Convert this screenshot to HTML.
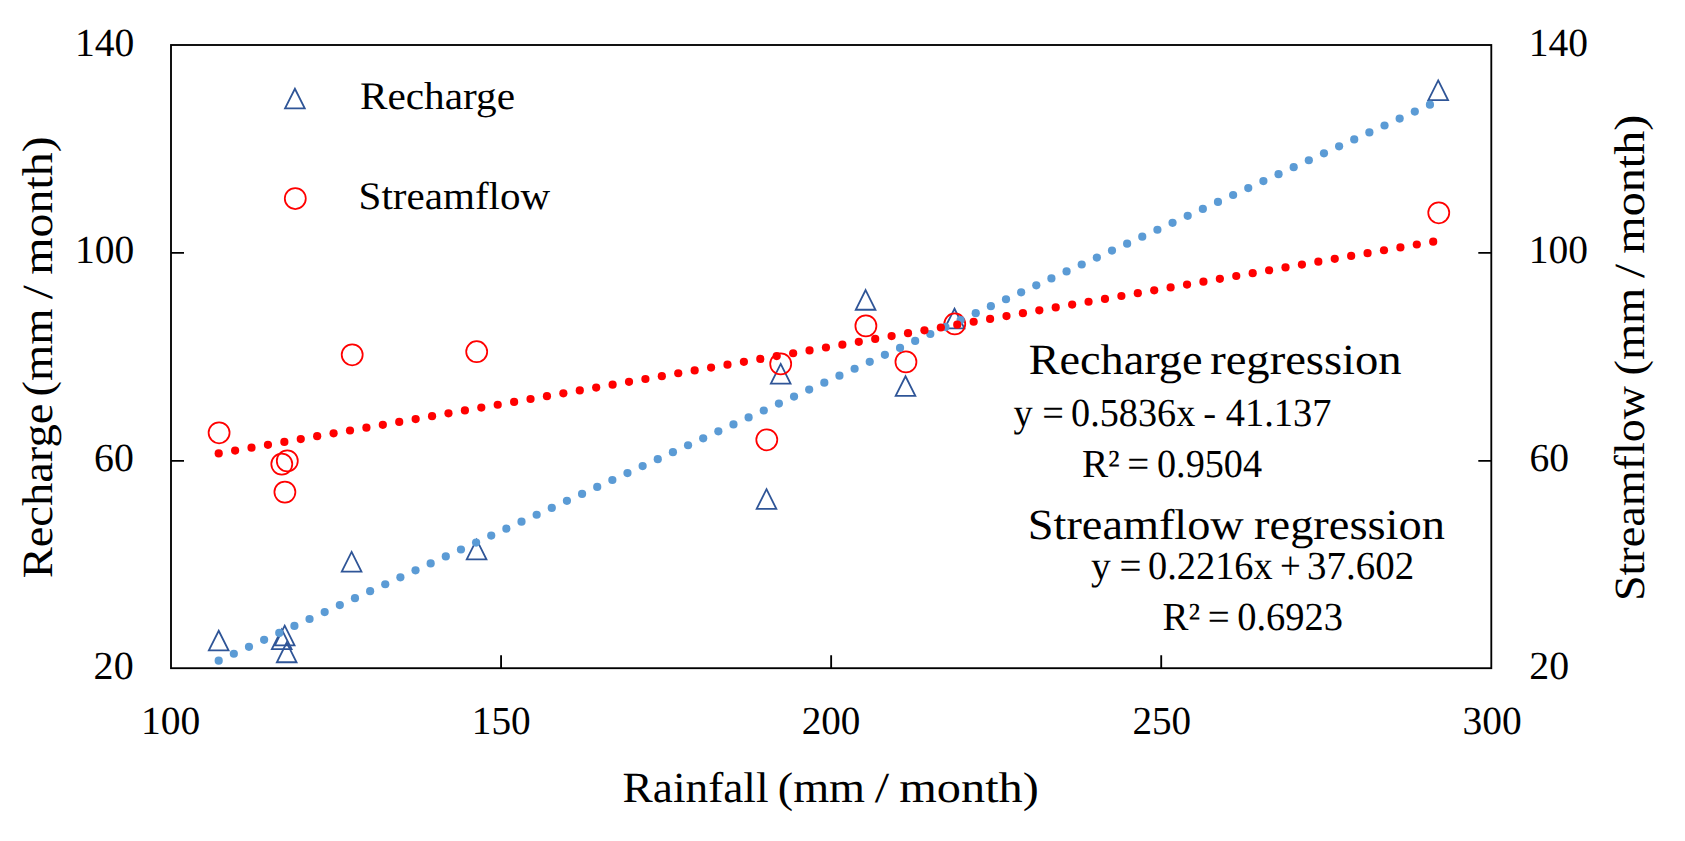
<!DOCTYPE html>
<html lang="en"><head><meta charset="utf-8"><title>Recharge and streamflow vs rainfall</title>
<style>
html,body{margin:0;padding:0;background:#fff;}
body{width:1685px;height:841px;overflow:hidden;}
svg{display:block;}
text{font-family:"Liberation Serif", serif;fill:#000;white-space:pre;text-rendering:geometricPrecision;}
</style></head><body>
<svg width="1685" height="841" viewBox="0 0 1685 841">
<rect x="0" y="0" width="1685" height="841" fill="#fff"/>
<!-- plot frame -->
<rect x="171.0" y="45.0" width="1320.3" height="623.2" fill="none" stroke="#000" stroke-width="1.85"/>
<!-- tick marks -->
<path d="M171.0 252.9h13M1491.3 252.9h-13M171.0 460.9h13M1491.3 460.9h-13M501.07 668.2v-13M831.15 668.2v-13M1161.22 668.2v-13" fill="none" stroke="#000" stroke-width="1.85"/>
<!-- Recharge markers (triangles) + legend key -->
<g fill="none" stroke="#2F5597" stroke-width="1.8" stroke-linejoin="miter" stroke-miterlimit="10">
<path d="M218.7 630.75L228.55 650.45L208.85 650.45Z"/>
<path d="M281.7 629.45L291.55 649.15L271.85 649.15Z"/>
<path d="M284.7 625.65L294.55 645.35L274.85 645.35Z"/>
<path d="M286.7 642.55L296.55 662.25L276.85 662.25Z"/>
<path d="M351.6 551.95L361.45 571.65L341.75 571.65Z"/>
<path d="M476.6 539.65L486.45 559.35L466.75 559.35Z"/>
<path d="M766.5 489.15L776.35 508.85L756.65 508.85Z"/>
<path d="M780.7 363.95L790.55 383.65L770.85 383.65Z"/>
<path d="M865.6 290.05L875.45 309.75L855.75 309.75Z"/>
<path d="M905.5 376.25L915.35 395.95L895.65 395.95Z"/>
<path d="M954.5 308.75L964.35 328.45L944.65 328.45Z"/>
<path d="M1438.2 80.45L1448.05 100.15L1428.35 100.15Z"/>
<path d="M294.9 88.75L304.75 108.45L285.05 108.45Z"/>
</g>
<!-- Streamflow markers (circles) + legend key -->
<g fill="none" stroke="#FF0000" stroke-width="1.75">
<circle cx="219.1" cy="432.8" r="10.5"/>
<circle cx="281.8" cy="464.1" r="10.5"/>
<circle cx="287.3" cy="460.9" r="10.5"/>
<circle cx="284.9" cy="492.1" r="10.5"/>
<circle cx="352.2" cy="354.75" r="10.5"/>
<circle cx="476.7" cy="351.7" r="10.5"/>
<circle cx="766.8" cy="439.8" r="10.5"/>
<circle cx="780.7" cy="363.9" r="10.5"/>
<circle cx="865.9" cy="325.9" r="10.5"/>
<circle cx="905.95" cy="361.9" r="10.5"/>
<circle cx="954.75" cy="323.95" r="10.5"/>
<circle cx="1438.76" cy="212.8" r="10.5"/>
<circle cx="295.3" cy="198.5" r="10.5"/>
</g>
<!-- Recharge trendline (round dots) -->
<g fill="#5B9BD5">
<circle cx="218.7" cy="660.72" r="4.1"/>
<circle cx="233.84" cy="653.77" r="4.1"/>
<circle cx="248.98" cy="646.82" r="4.1"/>
<circle cx="264.12" cy="639.87" r="4.1"/>
<circle cx="279.26" cy="632.92" r="4.1"/>
<circle cx="294.4" cy="625.97" r="4.1"/>
<circle cx="309.54" cy="619.01" r="4.1"/>
<circle cx="324.68" cy="612.06" r="4.1"/>
<circle cx="339.82" cy="605.11" r="4.1"/>
<circle cx="354.96" cy="598.16" r="4.1"/>
<circle cx="370.11" cy="591.21" r="4.1"/>
<circle cx="385.25" cy="584.26" r="4.1"/>
<circle cx="400.39" cy="577.31" r="4.1"/>
<circle cx="415.53" cy="570.36" r="4.1"/>
<circle cx="430.67" cy="563.41" r="4.1"/>
<circle cx="445.81" cy="556.45" r="4.1"/>
<circle cx="460.95" cy="549.5" r="4.1"/>
<circle cx="476.09" cy="542.55" r="4.1"/>
<circle cx="491.23" cy="535.6" r="4.1"/>
<circle cx="506.37" cy="528.65" r="4.1"/>
<circle cx="521.51" cy="521.7" r="4.1"/>
<circle cx="536.65" cy="514.75" r="4.1"/>
<circle cx="551.79" cy="507.8" r="4.1"/>
<circle cx="566.93" cy="500.84" r="4.1"/>
<circle cx="582.07" cy="493.89" r="4.1"/>
<circle cx="597.21" cy="486.94" r="4.1"/>
<circle cx="612.35" cy="479.99" r="4.1"/>
<circle cx="627.49" cy="473.04" r="4.1"/>
<circle cx="642.64" cy="466.09" r="4.1"/>
<circle cx="657.78" cy="459.14" r="4.1"/>
<circle cx="672.92" cy="452.19" r="4.1"/>
<circle cx="688.06" cy="445.23" r="4.1"/>
<circle cx="703.2" cy="438.28" r="4.1"/>
<circle cx="718.34" cy="431.33" r="4.1"/>
<circle cx="733.48" cy="424.38" r="4.1"/>
<circle cx="748.62" cy="417.43" r="4.1"/>
<circle cx="763.76" cy="410.48" r="4.1"/>
<circle cx="778.9" cy="403.53" r="4.1"/>
<circle cx="794.04" cy="396.58" r="4.1"/>
<circle cx="809.18" cy="389.62" r="4.1"/>
<circle cx="824.32" cy="382.67" r="4.1"/>
<circle cx="839.46" cy="375.72" r="4.1"/>
<circle cx="854.6" cy="368.77" r="4.1"/>
<circle cx="869.74" cy="361.82" r="4.1"/>
<circle cx="884.88" cy="354.87" r="4.1"/>
<circle cx="900.02" cy="347.92" r="4.1"/>
<circle cx="915.17" cy="340.97" r="4.1"/>
<circle cx="930.31" cy="334.02" r="4.1"/>
<circle cx="945.45" cy="327.06" r="4.1"/>
<circle cx="960.59" cy="320.11" r="4.1"/>
<circle cx="975.73" cy="313.16" r="4.1"/>
<circle cx="990.87" cy="306.21" r="4.1"/>
<circle cx="1006.01" cy="299.26" r="4.1"/>
<circle cx="1021.15" cy="292.31" r="4.1"/>
<circle cx="1036.29" cy="285.36" r="4.1"/>
<circle cx="1051.43" cy="278.41" r="4.1"/>
<circle cx="1066.57" cy="271.45" r="4.1"/>
<circle cx="1081.71" cy="264.5" r="4.1"/>
<circle cx="1096.85" cy="257.55" r="4.1"/>
<circle cx="1111.99" cy="250.6" r="4.1"/>
<circle cx="1127.13" cy="243.65" r="4.1"/>
<circle cx="1142.27" cy="236.7" r="4.1"/>
<circle cx="1157.41" cy="229.75" r="4.1"/>
<circle cx="1172.55" cy="222.8" r="4.1"/>
<circle cx="1187.7" cy="215.84" r="4.1"/>
<circle cx="1202.84" cy="208.89" r="4.1"/>
<circle cx="1217.98" cy="201.94" r="4.1"/>
<circle cx="1233.12" cy="194.99" r="4.1"/>
<circle cx="1248.26" cy="188.04" r="4.1"/>
<circle cx="1263.4" cy="181.09" r="4.1"/>
<circle cx="1278.54" cy="174.14" r="4.1"/>
<circle cx="1293.68" cy="167.19" r="4.1"/>
<circle cx="1308.82" cy="160.23" r="4.1"/>
<circle cx="1323.96" cy="153.28" r="4.1"/>
<circle cx="1339.1" cy="146.33" r="4.1"/>
<circle cx="1354.24" cy="139.38" r="4.1"/>
<circle cx="1369.38" cy="132.43" r="4.1"/>
<circle cx="1384.52" cy="125.48" r="4.1"/>
<circle cx="1399.66" cy="118.53" r="4.1"/>
<circle cx="1414.8" cy="111.58" r="4.1"/>
<circle cx="1429.94" cy="104.63" r="4.1"/>
</g>
<!-- Streamflow trendline (round dots) -->
<g fill="#FF0000">
<circle cx="218.7" cy="453.39" r="4.1"/>
<circle cx="235.11" cy="450.53" r="4.1"/>
<circle cx="251.52" cy="447.66" r="4.1"/>
<circle cx="267.94" cy="444.8" r="4.1"/>
<circle cx="284.35" cy="441.94" r="4.1"/>
<circle cx="300.76" cy="439.08" r="4.1"/>
<circle cx="317.17" cy="436.22" r="4.1"/>
<circle cx="333.59" cy="433.36" r="4.1"/>
<circle cx="350" cy="430.5" r="4.1"/>
<circle cx="366.41" cy="427.64" r="4.1"/>
<circle cx="382.82" cy="424.78" r="4.1"/>
<circle cx="399.24" cy="421.91" r="4.1"/>
<circle cx="415.65" cy="419.05" r="4.1"/>
<circle cx="432.06" cy="416.19" r="4.1"/>
<circle cx="448.47" cy="413.33" r="4.1"/>
<circle cx="464.89" cy="410.47" r="4.1"/>
<circle cx="481.3" cy="407.61" r="4.1"/>
<circle cx="497.71" cy="404.75" r="4.1"/>
<circle cx="514.12" cy="401.89" r="4.1"/>
<circle cx="530.54" cy="399.02" r="4.1"/>
<circle cx="546.95" cy="396.16" r="4.1"/>
<circle cx="563.36" cy="393.3" r="4.1"/>
<circle cx="579.77" cy="390.44" r="4.1"/>
<circle cx="596.19" cy="387.58" r="4.1"/>
<circle cx="612.6" cy="384.72" r="4.1"/>
<circle cx="629.01" cy="381.86" r="4.1"/>
<circle cx="645.42" cy="379" r="4.1"/>
<circle cx="661.84" cy="376.13" r="4.1"/>
<circle cx="678.25" cy="373.27" r="4.1"/>
<circle cx="694.66" cy="370.41" r="4.1"/>
<circle cx="711.07" cy="367.55" r="4.1"/>
<circle cx="727.49" cy="364.69" r="4.1"/>
<circle cx="743.9" cy="361.83" r="4.1"/>
<circle cx="760.31" cy="358.97" r="4.1"/>
<circle cx="776.72" cy="356.11" r="4.1"/>
<circle cx="793.14" cy="353.25" r="4.1"/>
<circle cx="809.55" cy="350.38" r="4.1"/>
<circle cx="825.96" cy="347.52" r="4.1"/>
<circle cx="842.37" cy="344.66" r="4.1"/>
<circle cx="858.79" cy="341.8" r="4.1"/>
<circle cx="875.2" cy="338.94" r="4.1"/>
<circle cx="891.61" cy="336.08" r="4.1"/>
<circle cx="908.02" cy="333.22" r="4.1"/>
<circle cx="924.44" cy="330.36" r="4.1"/>
<circle cx="940.85" cy="327.49" r="4.1"/>
<circle cx="957.26" cy="324.63" r="4.1"/>
<circle cx="973.67" cy="321.77" r="4.1"/>
<circle cx="990.09" cy="318.91" r="4.1"/>
<circle cx="1006.5" cy="316.05" r="4.1"/>
<circle cx="1022.91" cy="313.19" r="4.1"/>
<circle cx="1039.32" cy="310.33" r="4.1"/>
<circle cx="1055.74" cy="307.47" r="4.1"/>
<circle cx="1072.15" cy="304.61" r="4.1"/>
<circle cx="1088.56" cy="301.74" r="4.1"/>
<circle cx="1104.97" cy="298.88" r="4.1"/>
<circle cx="1121.39" cy="296.02" r="4.1"/>
<circle cx="1137.8" cy="293.16" r="4.1"/>
<circle cx="1154.21" cy="290.3" r="4.1"/>
<circle cx="1170.62" cy="287.44" r="4.1"/>
<circle cx="1187.04" cy="284.58" r="4.1"/>
<circle cx="1203.45" cy="281.72" r="4.1"/>
<circle cx="1219.86" cy="278.85" r="4.1"/>
<circle cx="1236.27" cy="275.99" r="4.1"/>
<circle cx="1252.69" cy="273.13" r="4.1"/>
<circle cx="1269.1" cy="270.27" r="4.1"/>
<circle cx="1285.51" cy="267.41" r="4.1"/>
<circle cx="1301.92" cy="264.55" r="4.1"/>
<circle cx="1318.34" cy="261.69" r="4.1"/>
<circle cx="1334.75" cy="258.83" r="4.1"/>
<circle cx="1351.16" cy="255.96" r="4.1"/>
<circle cx="1367.57" cy="253.1" r="4.1"/>
<circle cx="1383.99" cy="250.24" r="4.1"/>
<circle cx="1400.4" cy="247.38" r="4.1"/>
<circle cx="1416.81" cy="244.52" r="4.1"/>
<circle cx="1433.22" cy="241.66" r="4.1"/>
</g>
<!-- text -->
<text id="yl140" font-size="39.8"><tspan x="75.01" y="55.5" textLength="59.39" lengthAdjust="spacingAndGlyphs">140</tspan></text>
<text id="yl100" font-size="39.8"><tspan x="75.01" y="263.3" textLength="59.28" lengthAdjust="spacingAndGlyphs">100</tspan></text>
<text id="yl60" font-size="39.8"><tspan x="94.08" y="471.2" textLength="39.78" lengthAdjust="spacingAndGlyphs">60</tspan></text>
<text id="yl20" font-size="39.8"><tspan x="93.64" y="679.1" textLength="40.02" lengthAdjust="spacingAndGlyphs">20</tspan></text>
<text id="yr140" font-size="39.8"><tspan x="1528.81" y="55.5" textLength="59.28" lengthAdjust="spacingAndGlyphs">140</tspan></text>
<text id="yr100" font-size="39.8"><tspan x="1528.81" y="263.3" textLength="59.28" lengthAdjust="spacingAndGlyphs">100</tspan></text>
<text id="yr60" font-size="39.8"><tspan x="1529.58" y="471.2" textLength="39.56" lengthAdjust="spacingAndGlyphs">60</tspan></text>
<text id="yr20" font-size="39.8"><tspan x="1529.35" y="679.1" textLength="39.81" lengthAdjust="spacingAndGlyphs">20</tspan></text>
<text id="xl100" font-size="39.8"><tspan x="141.01" y="734.0" textLength="59.28" lengthAdjust="spacingAndGlyphs">100</tspan></text>
<text id="xl150" font-size="39.8"><tspan x="471.83" y="734.0" textLength="58.95" lengthAdjust="spacingAndGlyphs">150</tspan></text>
<text id="xl200" font-size="39.8"><tspan x="801.68" y="734.0" textLength="58.7" lengthAdjust="spacingAndGlyphs">200</tspan></text>
<text id="xl250" font-size="39.8"><tspan x="1132.38" y="734.0" textLength="58.7" lengthAdjust="spacingAndGlyphs">250</tspan></text>
<text id="xl300" font-size="39.8"><tspan x="1462.59" y="734.0" textLength="59.21" lengthAdjust="spacingAndGlyphs">300</tspan></text>
<text id="xt" font-size="43"><tspan x="622.58" y="802.4" textLength="145.91" lengthAdjust="spacingAndGlyphs">Rainfall</tspan> <tspan x="777.75" y="802.4" textLength="87.3" lengthAdjust="spacingAndGlyphs">(mm</tspan> <tspan x="874.77" y="802.4" textLength="14.37" lengthAdjust="spacingAndGlyphs">/</tspan> <tspan x="899.28" y="802.4" textLength="139.56" lengthAdjust="spacingAndGlyphs">month)</tspan></text>
<text id="ylt" font-size="43" transform="translate(51.7 577.0) rotate(-90)"><tspan x="-1.36" y="0" textLength="174.76" lengthAdjust="spacingAndGlyphs">Recharge</tspan> <tspan x="180.53" y="0" textLength="88.02" lengthAdjust="spacingAndGlyphs">(mm</tspan> <tspan x="277.78" y="0" textLength="14.06" lengthAdjust="spacingAndGlyphs">/</tspan> <tspan x="302.39" y="0" textLength="138.23" lengthAdjust="spacingAndGlyphs">month)</tspan></text>
<text id="yrt" font-size="43" transform="translate(1643.7 598.0) rotate(-90)"><tspan x="-3.14" y="0" textLength="215.32" lengthAdjust="spacingAndGlyphs">Streamflow</tspan> <tspan x="222.54" y="0" textLength="87.61" lengthAdjust="spacingAndGlyphs">(mm</tspan> <tspan x="319.98" y="0" textLength="14.06" lengthAdjust="spacingAndGlyphs">/</tspan> <tspan x="344.19" y="0" textLength="139.05" lengthAdjust="spacingAndGlyphs">month)</tspan></text>
<text id="lg1" font-size="39"><tspan x="359.93" y="109.1" textLength="155.09" lengthAdjust="spacingAndGlyphs">Recharge</tspan></text>
<text id="lg2" font-size="39"><tspan x="358.62" y="209.0" textLength="191.63" lengthAdjust="spacingAndGlyphs">Streamflow</tspan></text>
<text id="r1" font-size="43"><tspan x="1028.65" y="374.4" textLength="173.85" lengthAdjust="spacingAndGlyphs">Recharge</tspan> <tspan x="1210.17" y="374.4" textLength="191.52" lengthAdjust="spacingAndGlyphs">regression</tspan></text>
<text id="r2" font-size="39.8"><tspan x="1013.41" y="426.0" textLength="19.24" lengthAdjust="spacingAndGlyphs">y</tspan> <tspan x="1042.37" y="426.0" textLength="21.62" lengthAdjust="spacingAndGlyphs">=</tspan> <tspan x="1071.12" y="426.0" textLength="124.15" lengthAdjust="spacingAndGlyphs">0.5836x</tspan> <tspan x="1203.34" y="426.0" textLength="12.89" lengthAdjust="spacingAndGlyphs">-</tspan> <tspan x="1225.75" y="426.0" textLength="105.71" lengthAdjust="spacingAndGlyphs">41.137</tspan></text>
<text id="r3" font-size="39.8"><tspan x="1081.96" y="477.1" textLength="37.91" lengthAdjust="spacingAndGlyphs">R²</tspan> <tspan x="1127.24" y="477.1" textLength="21.98" lengthAdjust="spacingAndGlyphs">=</tspan> <tspan x="1157.02" y="477.1" textLength="105.04" lengthAdjust="spacingAndGlyphs">0.9504</tspan></text>
<text id="s1" font-size="43"><tspan x="1027.86" y="539.1" textLength="215.83" lengthAdjust="spacingAndGlyphs">Streamflow</tspan> <tspan x="1254.07" y="539.1" textLength="190.92" lengthAdjust="spacingAndGlyphs">regression</tspan></text>
<text id="s2" font-size="39.8"><tspan x="1090.99" y="579.3" textLength="19.77" lengthAdjust="spacingAndGlyphs">y</tspan> <tspan x="1119.44" y="579.3" textLength="21.98" lengthAdjust="spacingAndGlyphs">=</tspan> <tspan x="1148.12" y="579.3" textLength="124.56" lengthAdjust="spacingAndGlyphs">0.2216x</tspan> <tspan x="1279.95" y="579.3" textLength="20.76" lengthAdjust="spacingAndGlyphs">+</tspan> <tspan x="1307.11" y="579.3" textLength="106.98" lengthAdjust="spacingAndGlyphs">37.602</tspan></text>
<text id="s3" font-size="39.8"><tspan x="1162.57" y="630.3" textLength="37.59" lengthAdjust="spacingAndGlyphs">R²</tspan> <tspan x="1207.84" y="630.3" textLength="21.98" lengthAdjust="spacingAndGlyphs">=</tspan> <tspan x="1237.21" y="630.3" textLength="105.85" lengthAdjust="spacingAndGlyphs">0.6923</tspan></text>
</svg></body></html>
